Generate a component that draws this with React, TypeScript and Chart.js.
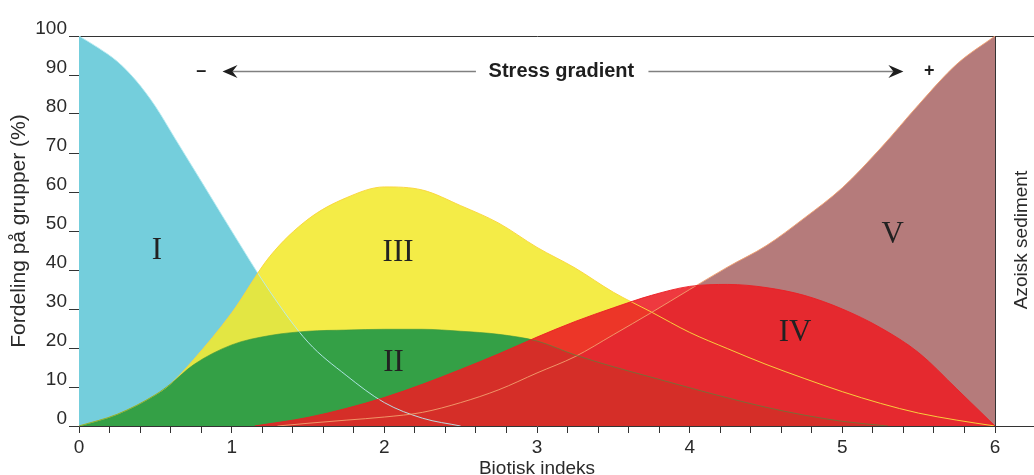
import React, { useEffect, useRef } from 'react';
import { Chart, registerables } from 'chart.js';

Chart.register(...registerables);

// ---- Data ----
// Group I
const group1X = [0, 0.125, 0.25, 0.375, 0.5, 0.625, 0.75, 0.875, 1.0, 1.25, 1.5, 1.75, 2.0, 2.25, 2.5];
const group1Y = [100, 97, 93.5, 88.5, 82, 74, 66, 58, 50, 34.5, 21.5, 13, 6, 2, 0];
// Group II
const group2X = [0, 0.25, 0.5, 0.6, 0.75, 1.0, 1.25, 1.5, 1.75, 2.0, 2.25, 2.5, 2.75, 3.0, 3.25, 3.5, 3.75, 4.0, 4.25, 4.5, 4.75, 5.0, 5.3];
const group2Y = [0, 3, 8, 10.8, 15.7, 20.8, 23.2, 24.3, 24.6, 24.8, 24.8, 24.3, 23.5, 21.8, 18.2, 15.2, 12.5, 9.8, 7.2, 4.8, 2.8, 1.2, 0];
// Group III
const group3X = [0, 0.25, 0.5, 0.6, 0.75, 1.0, 1.25, 1.5, 1.75, 2.0, 2.25, 2.5, 2.75, 3.0, 3.25, 3.5, 3.75, 4.0, 4.25, 4.5, 4.75, 5.0, 5.25, 5.5, 5.75, 6.0];
const group3Y = [0, 3, 8, 10.8, 17, 29, 43.5, 53, 58.5, 61.3, 60.5, 56.5, 52, 45.8, 40.5, 34.3, 29.2, 24, 19.8, 15.8, 12.2, 8.8, 5.8, 3.3, 1.5, 0];
// Group IV
const group4X = [1.15, 1.5, 1.75, 2.0, 2.25, 2.5, 2.75, 3.0, 3.25, 3.5, 3.75, 4.0, 4.25, 4.5, 4.75, 5.0, 5.25, 5.5, 5.75, 6.0];
const group4Y = [0, 2.2, 4.5, 7.3, 10.7, 14.5, 18.5, 22.8, 26.8, 30.3, 33.5, 35.8, 36.3, 35.5, 33.5, 30, 25.2, 18.8, 9.5, 0];
// Group V
const group5X = [1.3, 1.5, 1.75, 2.0, 2.25, 2.5, 2.75, 3.0, 3.25, 3.5, 3.75, 4.0, 4.25, 4.5, 4.75, 5.0, 5.25, 5.5, 5.75, 6.0];
const group5Y = [0, 0.7, 1.5, 2.3, 3.5, 6.0, 9.3, 13.6, 17.8, 23.4, 29.1, 35, 40.8, 46.2, 53.3, 61.1, 71.2, 82.4, 92.8, 100];

const groupNames = ['I', 'II', 'III', 'IV', 'V'];
const groupLabelAnchorX = [0.51, 2.06, 2.09, 4.69, 5.33];
const groupLabelAnchorY = [45.4, 16.7, 44.9, 24.4, 49.5];

const xTickLabels = ['0', '1', '2', '3', '4', '5', '6'];
const yTickStep = 10;

const yAxisTitle = 'Fordeling på grupper (%)';
const xAxisTitle = 'Biotisk indeks';
const rightLabel = 'Azoisk sediment';
const gradientLabel = 'Stress gradient';

const FONT = '"Liberation Sans", Arial, sans-serif';
const SERIF = '"Liberation Serif", "Times New Roman", serif';

const pts = (xs: number[], ys: number[]) => xs.map((x, i) => ({ x, y: ys[i] }));

const xTickValues: number[] = [];
for (let i = 0; i <= 30; i++) xTickValues.push(Math.round(i * 2) / 10);

const annotationPlugin = {
  id: 'annotations',
  afterDatasetsDraw(chart: any) {
    const { ctx, scales } = chart;
    const xs = scales.x;
    const ys = scales.y;
    ctx.save();
    ctx.fillStyle = '#222';
    ctx.font = `31px ${SERIF}`;
    ctx.textAlign = 'center';
    ctx.textBaseline = 'alphabetic';
    groupNames.forEach((name, i) => {
      const px = xs.getPixelForValue(groupLabelAnchorX[i]);
      const py = ys.getPixelForValue(groupLabelAnchorY[i]);
      ctx.fillText(name, px, py + 10.5);
    });
    ctx.restore();
  },
  afterDraw(chart: any) {
    const { ctx, chartArea, scales, width } = chart;
    const xs = scales.x;
    const ys = scales.y;
    ctx.save();
    // extend top and bottom frame lines to the right edge
    ctx.strokeStyle = '#333';
    ctx.lineWidth = 1;
    const yTop = Math.round(ys.getPixelForValue(100)) + 0.5;
    const yBot = Math.round(ys.getPixelForValue(0)) + 0.5;
    ctx.beginPath();
    ctx.moveTo(chartArea.right, yTop);
    ctx.lineTo(width, yTop);
    ctx.moveTo(chartArea.right, yBot);
    ctx.lineTo(width, yBot);
    ctx.stroke();

    // Azoisk sediment
    ctx.save();
    ctx.translate(chartArea.right + 27, (chartArea.top + chartArea.bottom) / 2 + 9);
    ctx.rotate(-Math.PI / 2);
    ctx.font = `19px ${FONT}`;
    ctx.fillStyle = '#2a2a2a';
    ctx.textAlign = 'center';
    ctx.textBaseline = 'middle';
    ctx.fillText(rightLabel, 0, 0);
    ctx.restore();

    // Stress gradient arrow
    const ay = Math.round(ys.getPixelForValue(91)) + 0.5;
    const leftTip = xs.getPixelForValue(0.94);
    const leftEnd = xs.getPixelForValue(2.6);
    const rightStart = xs.getPixelForValue(3.73);
    const rightTip = xs.getPixelForValue(5.4);
    ctx.strokeStyle = '#808080';
    ctx.lineWidth = 1.6;
    ctx.beginPath();
    ctx.moveTo(leftTip + 10, ay);
    ctx.lineTo(leftEnd, ay);
    ctx.moveTo(rightStart, ay);
    ctx.lineTo(rightTip - 10, ay);
    ctx.stroke();
    const head = (tip: number, dir: number) => {
      ctx.beginPath();
      ctx.moveTo(tip, ay);
      ctx.lineTo(tip - dir * 15, ay - 6.5);
      ctx.lineTo(tip - dir * 10, ay);
      ctx.lineTo(tip - dir * 15, ay + 6.5);
      ctx.closePath();
      ctx.fillStyle = '#1e1e1e';
      ctx.fill();
    };
    head(leftTip, -1);
    head(rightTip, 1);
    ctx.fillStyle = '#1e1e1e';
    ctx.font = `bold 20px ${FONT}`;
    ctx.textAlign = 'center';
    ctx.textBaseline = 'middle';
    ctx.fillText(gradientLabel, xs.getPixelForValue(3.16), ay);
    ctx.font = `bold 18px ${FONT}`;
    ctx.fillText('–', xs.getPixelForValue(0.8), ay);
    ctx.fillText('+', xs.getPixelForValue(5.57), ay);
    ctx.restore();
  },
};

export default function App() {
  const canvasRef = useRef<HTMLCanvasElement | null>(null);

  useEffect(() => {
    const canvas = canvasRef.current;
    if (!canvas) return;
    const common = {
      pointRadius: 0,
      pointHoverRadius: 0,
      cubicInterpolationMode: 'monotone' as const,
      fill: 'origin',
      borderWidth: 1,
    };
    const chart = new Chart(canvas, {
      type: 'line',
      data: {
        datasets: [
          {
            ...common,
            label: 'IV',
            data: pts(group4X, group4Y),
            backgroundColor: 'rgba(236,30,36,0.88)',
            borderColor: 'rgba(236,30,36,0.9)',
          },
          {
            ...common,
            label: 'II',
            data: pts(group2X, group2Y),
            backgroundColor: '#34A046',
            borderColor: 'rgba(60,150,60,0.6)',
          },
          {
            ...common,
            label: 'V',
            data: pts(group5X, group5Y),
            backgroundColor: '#B57B7B',
            borderColor: 'rgba(242,160,110,0.9)',
          },
          {
            ...common,
            label: 'III',
            data: pts(group3X, group3Y),
            backgroundColor: 'rgba(242,233,45,0.88)',
            borderColor: 'rgba(250,214,60,0.95)',
          },
          {
            ...common,
            label: 'I',
            data: pts(group1X, group1Y),
            backgroundColor: '#74CEDC',
            borderColor: 'rgba(185,235,242,0.9)',
          },
        ],
      } as any,
      options: {
        responsive: false,
        animation: false,
        events: [],
        layout: { padding: { top: 36, right: 39, left: 0, bottom: 0 } },
        plugins: {
          legend: { display: false },
          tooltip: { enabled: false },
          filler: { drawTime: 'beforeDatasetsDraw' },
        } as any,
        scales: {
          x: {
            type: 'linear',
            min: 0,
            max: 6,
            afterBuildTicks: (scale: any) => {
              scale.ticks = xTickValues.map((v) => ({ value: v }));
            },
            afterFit: (scale: any) => {
              scale.height = 69;
            },
            ticks: {
              autoSkip: false,
              maxRotation: 0,
              padding: 3,
              color: '#2a2a2a',
              font: { family: FONT, size: 19 },
              callback: (v: any) => (Number.isInteger(v) ? xTickLabels[v] : ''),
            },
            grid: {
              color: (c: any) => (c.tick && c.tick.value === 6 ? '#333' : 'rgba(0,0,0,0)'),
              tickColor: '#333',
              tickLength: 7,
            },
            border: { color: '#333', width: 1 },
            title: {
              display: true,
              text: xAxisTitle,
              color: '#2a2a2a',
              font: { family: FONT, size: 19 },
              padding: { top: 0, bottom: 15 },
            },
          },
          y: {
            min: 0,
            max: 100,
            afterFit: (scale: any) => {
              scale.width = 79;
            },
            ticks: {
              stepSize: yTickStep,
              padding: 2,
              labelOffset: -7,
              color: '#2a2a2a',
              font: { family: FONT, size: 19 },
            },
            grid: {
              color: (c: any) => (c.tick && c.tick.value === 100 ? '#333' : 'rgba(0,0,0,0)'),
              tickColor: '#333',
              tickLength: 10,
            },
            border: { color: '#555', width: 1 },
            title: {
              display: true,
              text: yAxisTitle,
              color: '#2a2a2a',
              font: { family: FONT, size: 21 },
              padding: { top: 7, bottom: 0 },
            },
          },
        },
      } as any,
      plugins: [annotationPlugin],
    });
    return () => chart.destroy();
  }, []);

  return (
    <div
      style={{
        position: 'fixed',
        left: 0,
        top: 0,
        width: 1034,
        height: 475,
        overflow: 'hidden',
        background: '#fff',
      }}
    >
      <canvas ref={canvasRef} width={1034} height={495} style={{ display: 'block' }} />
    </div>
  );
}
